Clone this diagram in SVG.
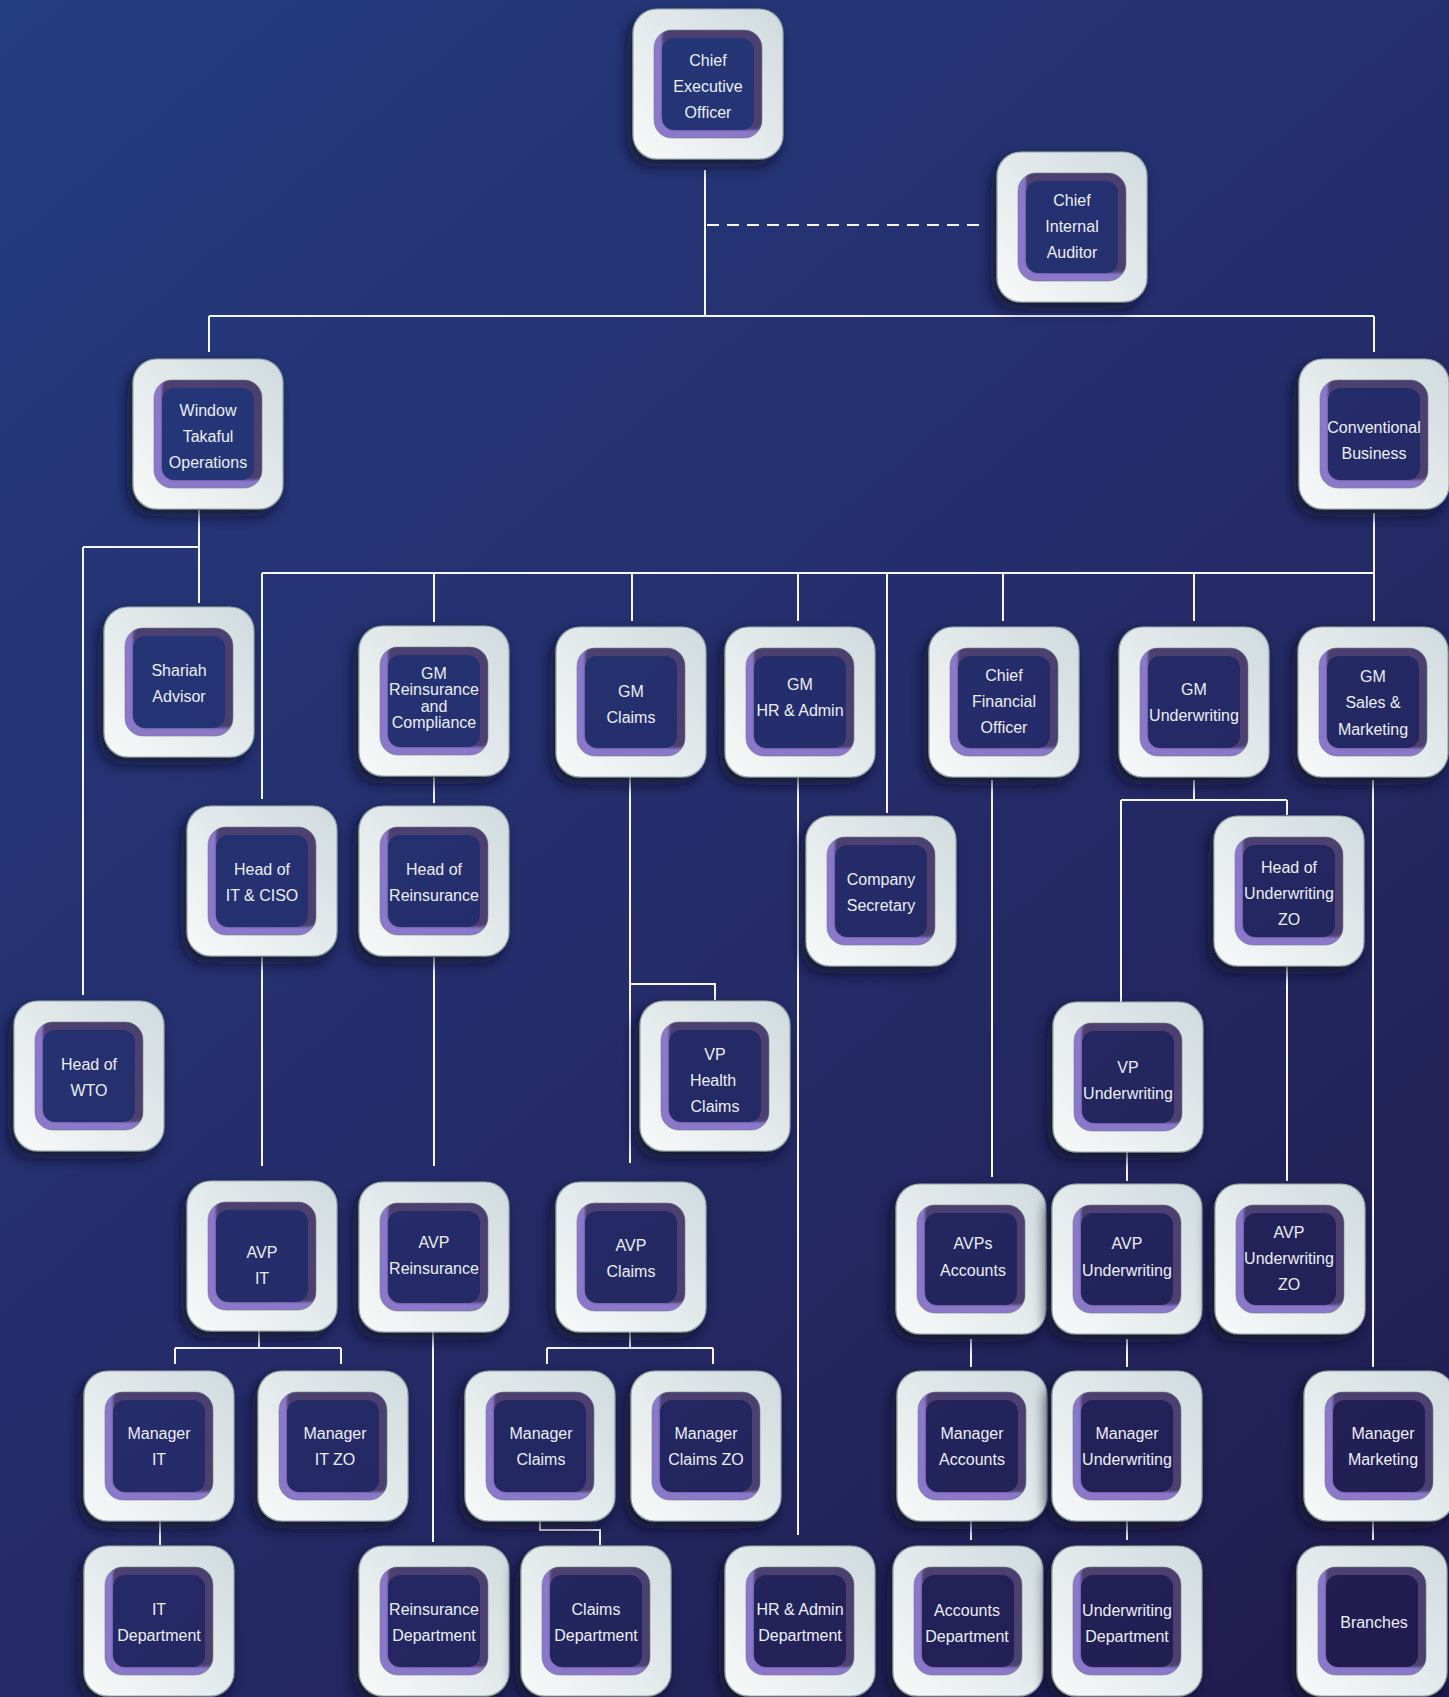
<svg xmlns="http://www.w3.org/2000/svg" xmlns:xlink="http://www.w3.org/1999/xlink" width="1449" height="1697" viewBox="0 0 1449 1697">
<style>
.ln{stroke:#f6f6fa;stroke-width:2;fill:none}
.dash{stroke-dasharray:12 8}
.in{fill:url(#bg)}
.t{font-family:"Liberation Sans",Arial,sans-serif;font-size:16px;fill:#eceef6;text-anchor:middle}
</style>
<defs>
<linearGradient id="bg" gradientUnits="userSpaceOnUse" x1="0" y1="0" x2="1449" y2="1697">
<stop offset="0" stop-color="#243c80"/>
<stop offset="0.5" stop-color="#252d6b"/>
<stop offset="1" stop-color="#211b4d"/>
</linearGradient>
<linearGradient id="cg" x1="0" y1="1" x2="1" y2="0">
<stop offset="0" stop-color="#f8f9f9"/>
<stop offset="1" stop-color="#d0dade"/>
</linearGradient>
<filter id="sh" x="-30%" y="-30%" width="160%" height="170%">
<feDropShadow dx="-5" dy="7" stdDeviation="7" flood-color="#070920" flood-opacity="0.75"/>
</filter>
<filter id="bl" x="-10%" y="-10%" width="120%" height="120%"><feGaussianBlur stdDeviation="1.2"/></filter>
<clipPath id="rc"><rect x="21" y="21" width="108" height="108" rx="18"/></clipPath>
<g id="card">
<rect width="150" height="150" rx="24" fill="url(#cg)" stroke="#93a8a6" stroke-width="1.2" filter="url(#sh)"/>
<rect x="21" y="21" width="108" height="108" rx="18" fill="#8c78ca"/>
<g clip-path="url(#rc)"><rect x="29" y="15" width="106" height="106" rx="14" fill="#4c3f70" filter="url(#bl)"/></g>
<rect x="21" y="21" width="108" height="108" rx="18" fill="none" stroke="#6f7f84" stroke-width="1" opacity="0.6"/>
</g>
</defs>
<rect width="1449" height="1697" fill="url(#bg)"/>

<g id="connectors">
<path class="ln" d="M705 170V316"/>
<path class="ln dash" d="M707 225H983"/>
<path class="ln" d="M209 316H1374M209 316V352M1374 316V352"/>
<path class="ln" d="M199 510V603M83 547H199M83 547V995"/>
<path class="ln" d="M1374 513V621M262 573H1374M262 573V799M434 573V622M632 573V621M798 573V621M887 573V813M1003 573V621M1194 573V621"/>
<path class="ln" d="M434 777V803"/>
<path class="ln" d="M262 957V1166M434 957V1166"/>
<path class="ln" d="M630 777V1163M630 984H715V1000"/>
<path class="ln" d="M798 777V1535"/>
<path class="ln" d="M992 780V1177"/>
<path class="ln" d="M1194 780V800M1121 800H1287M1121 800V1003M1287 800V815"/>
<path class="ln" d="M1287 967V1181M1127 1152V1181"/>
<path class="ln" d="M1373 780V1367"/>
<path class="ln" d="M259 1331V1348M175 1348H341M175 1348V1364M341 1348V1364"/>
<path class="ln" d="M433 1331V1542"/>
<path class="ln" d="M630 1331V1348M547 1348H713M547 1348V1364M713 1348V1364"/>
<path class="ln" d="M160 1520V1545M540 1520V1530H600V1545"/>
<path class="ln" d="M971 1339V1367M1127 1339V1367"/>
<path class="ln" d="M971 1521V1540M1127 1521V1540M1373 1521V1540"/>
</g>

<g id="n-ceo"><use href="#card" x="633" y="9"/><rect class="in" x="662" y="38" width="92" height="92" rx="12"/>
<text class="t"><tspan x="708" y="66">Chief</tspan><tspan x="708" y="92">Executive</tspan><tspan x="708" y="118">Officer</tspan></text></g>

<g id="n-auditor"><use href="#card" x="997" y="152"/><rect class="in" x="1026" y="181" width="92" height="92" rx="12"/>
<text class="t"><tspan x="1072" y="206">Chief</tspan><tspan x="1072" y="232">Internal</tspan><tspan x="1072" y="258">Auditor</tspan></text></g>

<g id="n-wto"><use href="#card" x="133" y="359"/><rect class="in" x="162" y="388" width="92" height="92" rx="12"/>
<text class="t"><tspan x="208" y="416">Window</tspan><tspan x="208" y="442">Takaful</tspan><tspan x="208" y="468">Operations</tspan></text></g>

<g id="n-conv"><use href="#card" x="1299" y="359"/><rect class="in" x="1328" y="388" width="92" height="92" rx="12"/>
<text class="t"><tspan x="1374" y="433">Conventional</tspan><tspan x="1374" y="459">Business</tspan></text></g>

<g id="n-shariah"><use href="#card" x="104" y="607"/><rect class="in" x="133" y="636" width="92" height="92" rx="12"/>
<text class="t"><tspan x="179" y="676">Shariah</tspan><tspan x="179" y="702">Advisor</tspan></text></g>

<g id="n-gm-reins"><use href="#card" x="359" y="626"/><rect class="in" x="388" y="655" width="92" height="92" rx="12"/>
<text class="t"><tspan x="434" y="679">GM</tspan><tspan x="434" y="695">Reinsurance</tspan><tspan x="434" y="712">and</tspan><tspan x="434" y="728">Compliance</tspan></text></g>

<g id="n-gm-claims"><use href="#card" x="556" y="627"/><rect class="in" x="585" y="656" width="92" height="92" rx="12"/>
<text class="t"><tspan x="631" y="697">GM</tspan><tspan x="631" y="723">Claims</tspan></text></g>

<g id="n-gm-hr"><use href="#card" x="725" y="627"/><rect class="in" x="754" y="656" width="92" height="92" rx="12"/>
<text class="t"><tspan x="800" y="690">GM</tspan><tspan x="800" y="716">HR &amp; Admin</tspan></text></g>

<g id="n-cfo"><use href="#card" x="929" y="627"/><rect class="in" x="958" y="656" width="92" height="92" rx="12"/>
<text class="t"><tspan x="1004" y="681">Chief</tspan><tspan x="1004" y="707">Financial</tspan><tspan x="1004" y="733">Officer</tspan></text></g>

<g id="n-gm-uw"><use href="#card" x="1119" y="627"/><rect class="in" x="1148" y="656" width="92" height="92" rx="12"/>
<text class="t"><tspan x="1194" y="695">GM</tspan><tspan x="1194" y="721">Underwriting</tspan></text></g>

<g id="n-gm-sales"><use href="#card" x="1298" y="627"/><rect class="in" x="1327" y="656" width="92" height="92" rx="12"/>
<text class="t"><tspan x="1373" y="682">GM</tspan><tspan x="1373" y="708">Sales &amp;</tspan><tspan x="1373" y="735">Marketing</tspan></text></g>

<g id="n-head-it"><use href="#card" x="187" y="806"/><rect class="in" x="216" y="835" width="92" height="92" rx="12"/>
<text class="t"><tspan x="262" y="875">Head of</tspan><tspan x="262" y="901">IT &amp; CISO</tspan></text></g>

<g id="n-head-reins"><use href="#card" x="359" y="806"/><rect class="in" x="388" y="835" width="92" height="92" rx="12"/>
<text class="t"><tspan x="434" y="875">Head of</tspan><tspan x="434" y="901">Reinsurance</tspan></text></g>

<g id="n-co-sec"><use href="#card" x="806" y="816"/><rect class="in" x="835" y="845" width="92" height="92" rx="12"/>
<text class="t"><tspan x="881" y="885">Company</tspan><tspan x="881" y="911">Secretary</tspan></text></g>

<g id="n-head-uw-zo"><use href="#card" x="1214" y="816"/><rect class="in" x="1243" y="845" width="92" height="92" rx="12"/>
<text class="t"><tspan x="1289" y="873">Head of</tspan><tspan x="1289" y="899">Underwriting</tspan><tspan x="1289" y="925">ZO</tspan></text></g>

<g id="n-head-wto"><use href="#card" x="14" y="1001"/><rect class="in" x="43" y="1030" width="92" height="92" rx="12"/>
<text class="t"><tspan x="89" y="1070">Head of</tspan><tspan x="89" y="1096">WTO</tspan></text></g>

<g id="n-vp-health"><use href="#card" x="640" y="1001"/><rect class="in" x="669" y="1030" width="92" height="92" rx="12"/>
<text class="t"><tspan x="715" y="1060">VP</tspan><tspan x="713" y="1086">Health</tspan><tspan x="715" y="1112">Claims</tspan></text></g>

<g id="n-vp-uw"><use href="#card" x="1053" y="1002"/><rect class="in" x="1082" y="1031" width="92" height="92" rx="12"/>
<text class="t"><tspan x="1128" y="1073">VP</tspan><tspan x="1128" y="1099">Underwriting</tspan></text></g>

<g id="n-avp-it"><use href="#card" x="187" y="1181"/><rect class="in" x="216" y="1210" width="92" height="92" rx="12"/>
<text class="t"><tspan x="262" y="1258">AVP</tspan><tspan x="262" y="1284">IT</tspan></text></g>

<g id="n-avp-reins"><use href="#card" x="359" y="1182"/><rect class="in" x="388" y="1211" width="92" height="92" rx="12"/>
<text class="t"><tspan x="434" y="1248">AVP</tspan><tspan x="434" y="1274">Reinsurance</tspan></text></g>

<g id="n-avp-claims"><use href="#card" x="556" y="1182"/><rect class="in" x="585" y="1211" width="92" height="92" rx="12"/>
<text class="t"><tspan x="631" y="1251">AVP</tspan><tspan x="631" y="1277">Claims</tspan></text></g>

<g id="n-avps-acc"><use href="#card" x="896" y="1184"/><rect class="in" x="925" y="1213" width="92" height="92" rx="12"/>
<text class="t"><tspan x="973" y="1249">AVPs</tspan><tspan x="973" y="1276">Accounts</tspan></text></g>

<g id="n-avp-uw"><use href="#card" x="1052" y="1184"/><rect class="in" x="1081" y="1213" width="92" height="92" rx="12"/>
<text class="t"><tspan x="1127" y="1249">AVP</tspan><tspan x="1127" y="1276">Underwriting</tspan></text></g>

<g id="n-avp-uw-zo"><use href="#card" x="1215" y="1184"/><rect class="in" x="1244" y="1213" width="92" height="92" rx="12"/>
<text class="t"><tspan x="1289" y="1238">AVP</tspan><tspan x="1289" y="1264">Underwriting</tspan><tspan x="1289" y="1290">ZO</tspan></text></g>

<g id="n-mgr-it"><use href="#card" x="84" y="1371"/><rect class="in" x="113" y="1400" width="92" height="92" rx="12"/>
<text class="t"><tspan x="159" y="1439">Manager</tspan><tspan x="159" y="1465">IT</tspan></text></g>

<g id="n-mgr-it-zo"><use href="#card" x="258" y="1371"/><rect class="in" x="287" y="1400" width="92" height="92" rx="12"/>
<text class="t"><tspan x="335" y="1439">Manager</tspan><tspan x="335" y="1465">IT ZO</tspan></text></g>

<g id="n-mgr-claims"><use href="#card" x="465" y="1371"/><rect class="in" x="494" y="1400" width="92" height="92" rx="12"/>
<text class="t"><tspan x="541" y="1439">Manager</tspan><tspan x="541" y="1465">Claims</tspan></text></g>

<g id="n-mgr-claims-zo"><use href="#card" x="631" y="1371"/><rect class="in" x="660" y="1400" width="92" height="92" rx="12"/>
<text class="t"><tspan x="706" y="1439">Manager</tspan><tspan x="706" y="1465">Claims ZO</tspan></text></g>

<g id="n-mgr-acc"><use href="#card" x="897" y="1371"/><rect class="in" x="926" y="1400" width="92" height="92" rx="12"/>
<text class="t"><tspan x="972" y="1439">Manager</tspan><tspan x="972" y="1465">Accounts</tspan></text></g>

<g id="n-mgr-uw"><use href="#card" x="1052" y="1371"/><rect class="in" x="1081" y="1400" width="92" height="92" rx="12"/>
<text class="t"><tspan x="1127" y="1439">Manager</tspan><tspan x="1127" y="1465">Underwriting</tspan></text></g>

<g id="n-mgr-mkt"><use href="#card" x="1304" y="1371"/><rect class="in" x="1333" y="1400" width="92" height="92" rx="12"/>
<text class="t"><tspan x="1383" y="1439">Manager</tspan><tspan x="1383" y="1465">Marketing</tspan></text></g>

<g id="n-it-dept"><use href="#card" x="84" y="1546"/><rect class="in" x="113" y="1575" width="92" height="92" rx="12"/>
<text class="t"><tspan x="159" y="1615">IT</tspan><tspan x="159" y="1641">Department</tspan></text></g>

<g id="n-reins-dept"><use href="#card" x="359" y="1546"/><rect class="in" x="388" y="1575" width="92" height="92" rx="12"/>
<text class="t"><tspan x="434" y="1615">Reinsurance</tspan><tspan x="434" y="1641">Department</tspan></text></g>

<g id="n-claims-dept"><use href="#card" x="521" y="1546"/><rect class="in" x="550" y="1575" width="92" height="92" rx="12"/>
<text class="t"><tspan x="596" y="1615">Claims</tspan><tspan x="596" y="1641">Department</tspan></text></g>

<g id="n-hr-dept"><use href="#card" x="725" y="1546"/><rect class="in" x="754" y="1575" width="92" height="92" rx="12"/>
<text class="t"><tspan x="800" y="1615">HR &amp; Admin</tspan><tspan x="800" y="1641">Department</tspan></text></g>

<g id="n-acc-dept"><use href="#card" x="893" y="1546"/><rect class="in" x="922" y="1575" width="92" height="92" rx="12"/>
<text class="t"><tspan x="967" y="1616">Accounts</tspan><tspan x="967" y="1642">Department</tspan></text></g>

<g id="n-uw-dept"><use href="#card" x="1052" y="1546"/><rect class="in" x="1081" y="1575" width="92" height="92" rx="12"/>
<text class="t"><tspan x="1127" y="1616">Underwriting</tspan><tspan x="1127" y="1642">Department</tspan></text></g>

<g id="n-branches"><use href="#card" x="1297" y="1546"/><rect class="in" x="1326" y="1575" width="92" height="92" rx="12"/>
<text class="t"><tspan x="1374" y="1628">Branches</tspan></text></g>
</svg>
